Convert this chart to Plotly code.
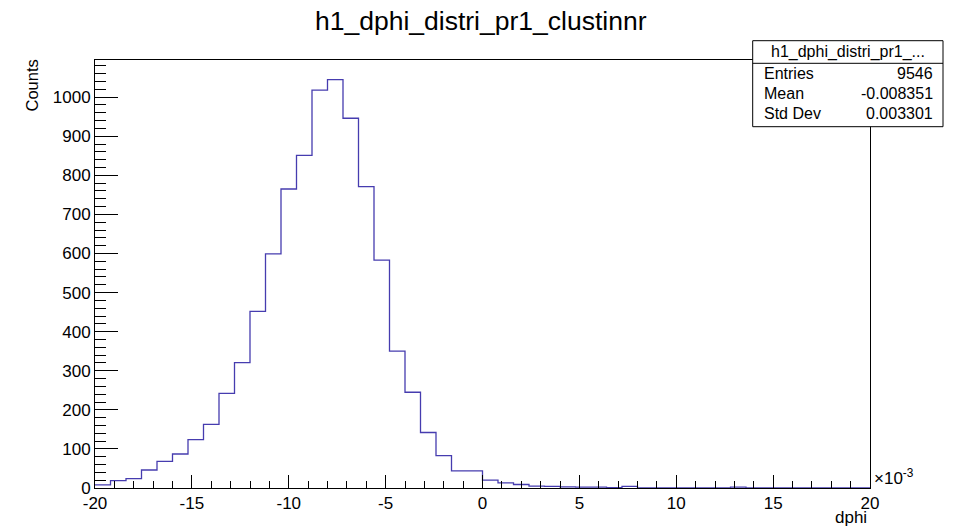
import plotly.graph_objects as go

# ---- data (x in units of 1e-3) ----
bin_lo = -20.0
bin_width = 0.8
counts = [8, 19, 24, 46, 68, 87, 124, 163, 242, 321,
          452, 599, 765, 851, 1018, 1045, 946, 771, 583, 350,
          245, 142, 83, 44, 44, 20, 13, 9, 5, 4,
          3, 2, 2, 1, 4, 0, 0, 0, 0, 0,
          0, 2, 0, 0, 0, 0, 0, 0, 0, 0]
x_ticks = [-20, -15, -10, -5, 0, 5, 10, 15, 20]
y_ticks = [0, 100, 200, 300, 400, 500, 600, 700, 800, 900, 1000]
title = "h1_dphi_distri_pr1_clustinnr"
stats_title = "h1_dphi_distri_pr1_..."
stats_names = ["Entries", "Mean", "Std Dev"]
stats_values = ["9546", "-0.008351", "0.003301"]

edges = [bin_lo + i * bin_width for i in range(len(counts) + 1)]
ys = counts + [counts[-1]]

FONT = "Liberation Sans, Arial, sans-serif"
W, H = 956, 530
L, R, T, B = 95, 86, 60, 42
pw, ph = W - L - R, H - T - B


def px(xp):
    return (xp - L) / pw


def py(yp):
    return (H - B - yp) / ph


fig = go.Figure()
fig.add_trace(go.Scatter(x=edges, y=ys, mode="lines", line_shape="hv",
                         line=dict(color="rgb(70,60,175)", width=1.3),
                         hoverinfo="skip", showlegend=False))

fig.update_layout(
    width=W, height=H,
    margin=dict(l=L, r=R, t=T, b=B, pad=0),
    paper_bgcolor="white", plot_bgcolor="white",
    font=dict(family=FONT, color="black", size=17),
    showlegend=False,
    xaxis=dict(range=[-20, 20], tickvals=x_ticks, ticktext=[str(v) for v in x_ticks],
               ticks="inside", ticklen=13, tickwidth=1, tickcolor="black",
               minor=dict(dtick=1, tick0=0, ticks="inside", ticklen=7, tickwidth=1, tickcolor="black", showgrid=False),
               showline=True, linecolor="black", linewidth=1, mirror=True,
               showgrid=False, zeroline=False, tickfont=dict(size=17, family=FONT)),
    yaxis=dict(range=[0, 1095], tickvals=y_ticks, ticktext=[str(v) for v in y_ticks],
               ticks="inside", ticklen=23, tickwidth=1, tickcolor="black",
               minor=dict(dtick=20, tick0=0, ticks="inside", ticklen=11, tickwidth=1, tickcolor="black", showgrid=False),
               showline=True, linecolor="black", linewidth=1, mirror=True,
               showgrid=False, zeroline=False, tickfont=dict(size=17, family=FONT)),
)

ann = []
# title
ann.append(dict(x=px(481), y=py(21), xref="paper", yref="paper", text=title, showarrow=False,
                xanchor="center", yanchor="middle", font=dict(size=26.5, family=FONT)))
# axis titles
ann.append(dict(x=px(31.5), y=py(86), xref="paper", yref="paper", text="Counts", showarrow=False,
                textangle=-90, xanchor="center", yanchor="middle", font=dict(size=16.5, family=FONT)))
ann.append(dict(x=px(869), y=py(517), xref="paper", yref="paper", text="dphi", showarrow=False,
                xanchor="right", yanchor="middle", font=dict(size=17, family=FONT)))
ann.append(dict(x=px(872), y=py(477), xref="paper", yref="paper", text="×10<sup>-3</sup>", showarrow=False,
                xanchor="left", yanchor="middle", font=dict(size=17, family=FONT)))

# stats box
bx0, bx1, by0, by1 = 752.7, 943, 40.7, 126.7
shapes = [
    dict(type="rect", xref="paper", yref="paper", x0=px(bx0), x1=px(bx1), y0=py(by1), y1=py(by0),
         line=dict(color="black", width=1), fillcolor="white", layer="above"),
    dict(type="line", xref="paper", yref="paper", x0=px(bx0), x1=px(bx1), y0=py(63.3), y1=py(63.3),
         line=dict(color="black", width=1), layer="above"),
]
ann.append(dict(x=px((bx0 + bx1) / 2), y=py(52.5), xref="paper", yref="paper", text=stats_title,
                showarrow=False, xanchor="center", yanchor="middle", font=dict(size=16, family=FONT)))
row_y = [73.3, 93.3, 113.3]
for name, val, yy in zip(stats_names, stats_values, row_y):
    ann.append(dict(x=px(762), y=py(yy), xref="paper", yref="paper", text=name, showarrow=False,
                    xanchor="left", yanchor="middle", font=dict(size=16, family=FONT)))
    ann.append(dict(x=px(935), y=py(yy), xref="paper", yref="paper", text=val, showarrow=False,
                    xanchor="right", yanchor="middle", font=dict(size=16, family=FONT)))

fig.update_layout(annotations=ann, shapes=shapes)
fig.write_html("out.html")
